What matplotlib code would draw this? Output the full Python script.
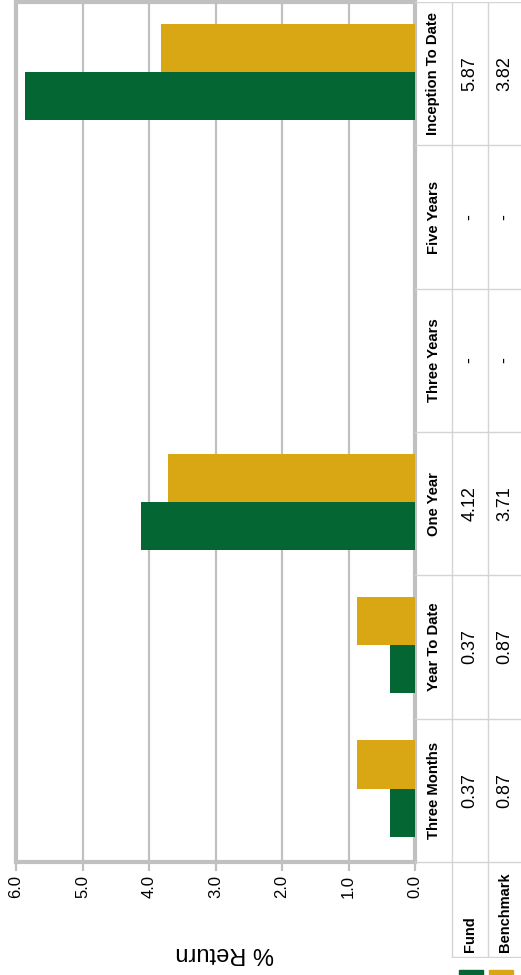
import numpy as np
import matplotlib
matplotlib.use('Agg')
import matplotlib.pyplot as plt
from matplotlib.patches import Rectangle

# returns by period, bottom of the chart first
periods = ["Three Months", "Year To Date", "One Year", "Three Years", "Five Years", "Inception To Date"]
fund = [0.37, 0.37, 4.12, np.nan, np.nan, 5.87]
benchmark = [0.87, 0.87, 3.71, np.nan, np.nan, 3.82]
ticks = [0, 1, 2, 3, 4, 5, 6]

green = '#036633'
gold = '#D9A614'
grid_grey = '#c0c0c0'
line_grey = '#d4d4d4'

plt.rcParams['font.family'] = ['Liberation Sans', 'DejaVu Sans']

W, H = 521, 975
fig = plt.figure(figsize=(W / 100, H / 100), dpi=100)

def px(x0, y0, x1, y1):
    # pixel box -> figure fraction rect
    return [x0 / W, 1 - y1 / H, (x1 - x0) / W, (y1 - y0) / H]

ax = fig.add_axes(px(16, 2, 415, 862))
pos = np.arange(len(periods)) + 0.012
bh = 0.336
ax.barh(pos + bh / 2, benchmark, height=bh, color=gold, zorder=3)
ax.barh(pos - bh / 2, fund, height=bh, color=green, zorder=3)
ax.set_xlim(6, 0)
ax.set_ylim(-0.5, 5.5)
ax.set_xticks(ticks)
ax.set_xticklabels(["%.1f" % t for t in ticks], rotation=90, fontsize=12)
ax.set_yticks([])
ax.xaxis.grid(True, color=grid_grey, lw=1.6, zorder=0)
ax.set_axisbelow(True)
ax.tick_params(axis='x', length=6.5, width=1.6, color=grid_grey, pad=3)
for s in ax.spines.values():
    s.set_color(grid_grey)
    s.set_linewidth(3)

fig.text(225 / W, 1 - 953 / H, "% Return", rotation=180, ha='center', va='center', fontsize=17)

# data table to the right of the bars
tb = fig.add_axes(px(415, 2, 521, 958))
extra = (958 - 862) / (860 / 6)
tb.set_xlim(0, 1)
tb.set_ylim(-0.5 - extra, 5.5)
tb.axis('off')
c1, c2 = 37 / 106, 73 / 106
for i in range(len(periods) + 1):
    tb.plot([0, 1], [i - 0.5, i - 0.5], color=line_grey, lw=1)
for cx in (c1, c2):
    tb.plot([cx, cx], [-0.5 - extra, 5.5], color=line_grey, lw=1)
tb.plot([c1, 1], [-0.5 - extra + 0.005, -0.5 - extra + 0.005], color=line_grey, lw=1)

def fmt(v):
    return "-" if np.isnan(v) else "%.2f" % v

for i, p in enumerate(periods):
    tb.text(c1 / 2, i, p, rotation=90, ha='center', va='center', fontsize=10.7, fontweight='bold')
    tb.text((c1 + c2) / 2, i, fmt(fund[i]), rotation=90, ha='center', va='center', fontsize=13)
    tb.text((c2 + 1) / 2, i, fmt(benchmark[i]), rotation=90, ha='center', va='center', fontsize=13)

tb.text((c1 + c2) / 2, -0.5 - extra + 0.04, "Fund", rotation=90, ha='center', va='bottom',
        fontsize=10.5, fontweight='bold')
tb.text((c2 + 1) / 2, -0.5 - extra + 0.04, "Benchmark", rotation=90, ha='center', va='bottom',
        fontsize=10.5, fontweight='bold')

# legend swatches under the table headers
fig.patches.append(Rectangle((459 / W, 0), 24 / W, 5 / H, transform=fig.transFigure, color=green))
fig.patches.append(Rectangle((489 / W, 0), 24 / W, 5 / H, transform=fig.transFigure, color=gold))

fig.savefig("out.png", dpi=100)
